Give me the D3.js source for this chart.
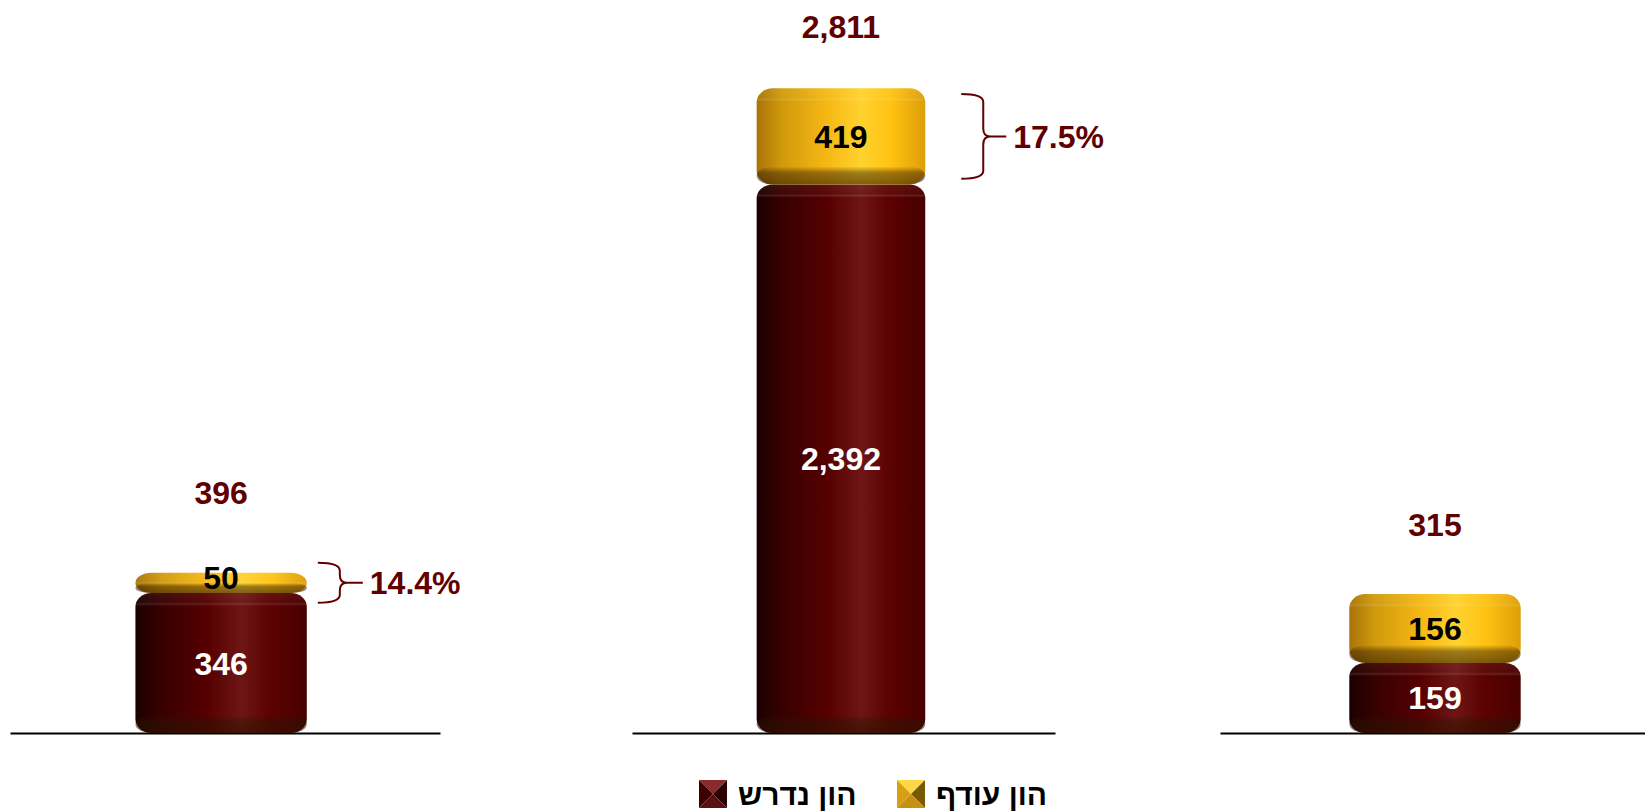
<!DOCTYPE html>
<html>
<head>
<meta charset="utf-8">
<script src="https://cdn.jsdelivr.net/npm/d3@7"></script>
<style>
  body { margin: 0; background: #fff; }
  text { font-family: "Liberation Sans", Arial, sans-serif; font-weight: bold; }
</style>
</head>
<body>
<div id="chart"></div>
<script>
// data
var categories = ["a", "b", "c"];
var seriesKeys = ["required", "surplus"];
var seriesNames = ["הון נדרש", "הון עודף"];
var required = [346, 2392, 159];
var surplus = [50, 419, 156];
var totals = [396, 2811, 315];
var surplusPct = ["14.4%", "17.5%", null];
var axisMax = [1700, 3000, 1560];

// layout
var width = 1645, height = 811;
var baseY = 733, topY = 45;
var panelLeft = [10, 632, 1220];
var panelWidth = [430, 423, 430];
var barAlign = [0.485, 0.49, 0.5];
var braceGap = [11, 36, 20];
var totalGap = [80, 62, 70];

var fmt = d3.format(",");

var svg = d3.select("#chart").append("svg")
  .attr("width", width)
  .attr("height", height);

var defs = svg.append("defs");

function hGrad(id, stops) {
  var g = defs.append("linearGradient").attr("id", id)
    .attr("x1", 0).attr("x2", 1).attr("y1", 0).attr("y2", 0);
  stops.forEach(s => g.append("stop").attr("offset", s[0]).attr("stop-color", s[1]));
}
function vGrad(id, color, stops) {
  var g = defs.append("linearGradient").attr("id", id)
    .attr("x1", 0).attr("x2", 0).attr("y1", 0).attr("y2", 1);
  stops.forEach(s => g.append("stop").attr("offset", s[0])
    .attr("stop-color", color).attr("stop-opacity", s[1]));
}

hGrad("g-required", [[0, "#1c0000"], [0.15, "#380000"], [0.42, "#560000"],
  [0.62, "#6e1616"], [0.78, "#5c0202"], [1, "#480000"]]);
hGrad("g-surplus", [[0, "#a87408"], [0.15, "#d09a0c"], [0.42, "#f6b814"],
  [0.62, "#ffd22e"], [0.8, "#ffc212"], [1, "#dc9e08"]]);
vGrad("g-top", "#fff", [[0, 0.06], [0.42, 0.03], [0.5, 0.12], [0.6, 0], [1, 0]]);
vGrad("g-bottom", "#2a1400", [[0, 0], [0.35, 0.45], [1, 0.6]]);

var fills = { required: "url(#g-required)", surplus: "url(#g-surplus)" };
var labelColor = { required: "#fff", surplus: "#000" };

var stack = d3.stack().keys(seriesKeys);

categories.forEach((cat, i) => {
  var row = { cat: cat, required: required[i], surplus: surplus[i] };
  var layers = stack([row]);

  var x = d3.scaleBand().domain([cat]).range([0, panelWidth[i]])
    .padding(0.43).align(barAlign[i]);
  var y = d3.scaleLinear().domain([0, axisMax[i]]).range([baseY, topY]);

  var g = svg.append("g").attr("transform", `translate(${panelLeft[i]},0)`);

  // baseline
  var axis = g.append("g")
    .attr("transform", `translate(0,${y(0)})`)
    .call(d3.axisBottom(x).tickSize(0).tickSizeOuter(0).tickFormat(""));
  axis.select(".domain").attr("stroke", "#000").attr("stroke-width", 2);

  var segs = layers.map(l => {
    var d = l[0];
    return { key: l.key, value: d.data[l.key], y0: y(d[0]), y1: y(d[1]) };
  });

  var bw = x.bandwidth(), bx = x(cat);

  var seg = g.selectAll(".seg").data(segs).enter().append("g").attr("class", "seg");

  seg.append("rect")
    .attr("x", bx).attr("width", bw)
    .attr("y", d => d.y1).attr("height", d => d.y0 - d.y1)
    .attr("rx", 16).attr("ry", d => Math.min(14, (d.y0 - d.y1) / 2))
    .attr("fill", d => fills[d.key]);

  seg.append("rect")
    .attr("x", bx).attr("width", bw)
    .attr("y", d => d.y1).attr("height", d => Math.min(22, d.y0 - d.y1))
    .attr("rx", 16).attr("ry", d => Math.min(11, (d.y0 - d.y1) / 2))
    .attr("fill", "url(#g-top)");

  seg.append("rect")
    .attr("x", bx).attr("width", bw)
    .attr("y", d => d.y0 - Math.min(18, (d.y0 - d.y1) / 2))
    .attr("height", d => Math.min(18, (d.y0 - d.y1) / 2))
    .attr("rx", 16).attr("ry", d => Math.min(9, (d.y0 - d.y1) / 4))
    .attr("fill", "url(#g-bottom)");

  seg.append("text")
    .attr("x", bx + bw / 2)
    .attr("y", d => (d.y0 + d.y1) / 2)
    .attr("dy", d => (d.y0 - d.y1) < 30 ? "0.2em" : "0.36em")
    .attr("text-anchor", "middle")
    .attr("font-size", 32)
    .attr("fill", d => labelColor[d.key])
    .text(d => fmt(d.value));

  // total above
  g.append("text")
    .attr("x", bx + bw / 2)
    .attr("y", y(totals[i]) - totalGap[i])
    .attr("dy", "0.36em")
    .attr("text-anchor", "middle")
    .attr("font-size", 32)
    .attr("fill", "#600000")
    .text(fmt(totals[i]));

  // brace + share of surplus
  if (surplusPct[i]) {
    var s = segs[1];
    var mid = (s.y0 + s.y1) / 2;
    var half = Math.max(20, (s.y0 - s.y1) * 0.44);
    var y1 = mid - half, y2 = mid + half;
    var x0 = bx + bw + braceGap[i], xw = x0 + 22, xt = x0 + 45, r = 8;
    var p = d3.path();
    p.moveTo(x0, y1);
    p.quadraticCurveTo(xw, y1, xw, y1 + r);
    p.lineTo(xw, mid - r);
    p.quadraticCurveTo(xw, mid, xw + 7, mid);
    p.lineTo(xt, mid);
    p.moveTo(xw + 7, mid);
    p.quadraticCurveTo(xw, mid, xw, mid + r);
    p.lineTo(xw, y2 - r);
    p.quadraticCurveTo(xw, y2, x0, y2);
    g.append("path").attr("d", p.toString())
      .attr("fill", "none").attr("stroke", "#600000").attr("stroke-width", 2);
    g.append("text")
      .attr("x", xt + 7)
      .attr("y", mid)
      .attr("dy", "0.36em")
      .attr("font-size", 32)
      .attr("fill", "#600000")
      .text(surplusPct[i]);
  }
});

// legend
var swatchTri = {
  required: ["#8a2a2a", "#3c0000", "#2a0000", "#5a1010"],
  surplus: ["#ffd84a", "#d8a010", "#7a5a00", "#c89010"]
};
var legendX = [699, 897];
var legend = svg.selectAll(".legend").data(seriesKeys).enter().append("g")
  .attr("class", "legend")
  .attr("transform", (d, i) => `translate(${legendX[i]},780)`);
var sz = 28, c = sz / 2;
var tris = [
  [[0, 0], [sz, 0], [c, c]],
  [[0, 0], [c, c], [0, sz]],
  [[sz, 0], [sz, sz], [c, c]],
  [[0, sz], [c, c], [sz, sz]]
];
legend.each(function(key) {
  d3.select(this).selectAll("polygon").data(tris).enter().append("polygon")
    .attr("points", t => t.map(q => q.join(",")).join(" "))
    .attr("fill", (t, j) => swatchTri[key][j]);
});
legend.append("text")
  .attr("x", sz + 11)
  .attr("y", c)
  .attr("dy", "0.36em")
  .attr("font-size", 30)
  .attr("fill", "#000")
  .text((d, i) => seriesNames[i]);
</script>
</body>
</html>
